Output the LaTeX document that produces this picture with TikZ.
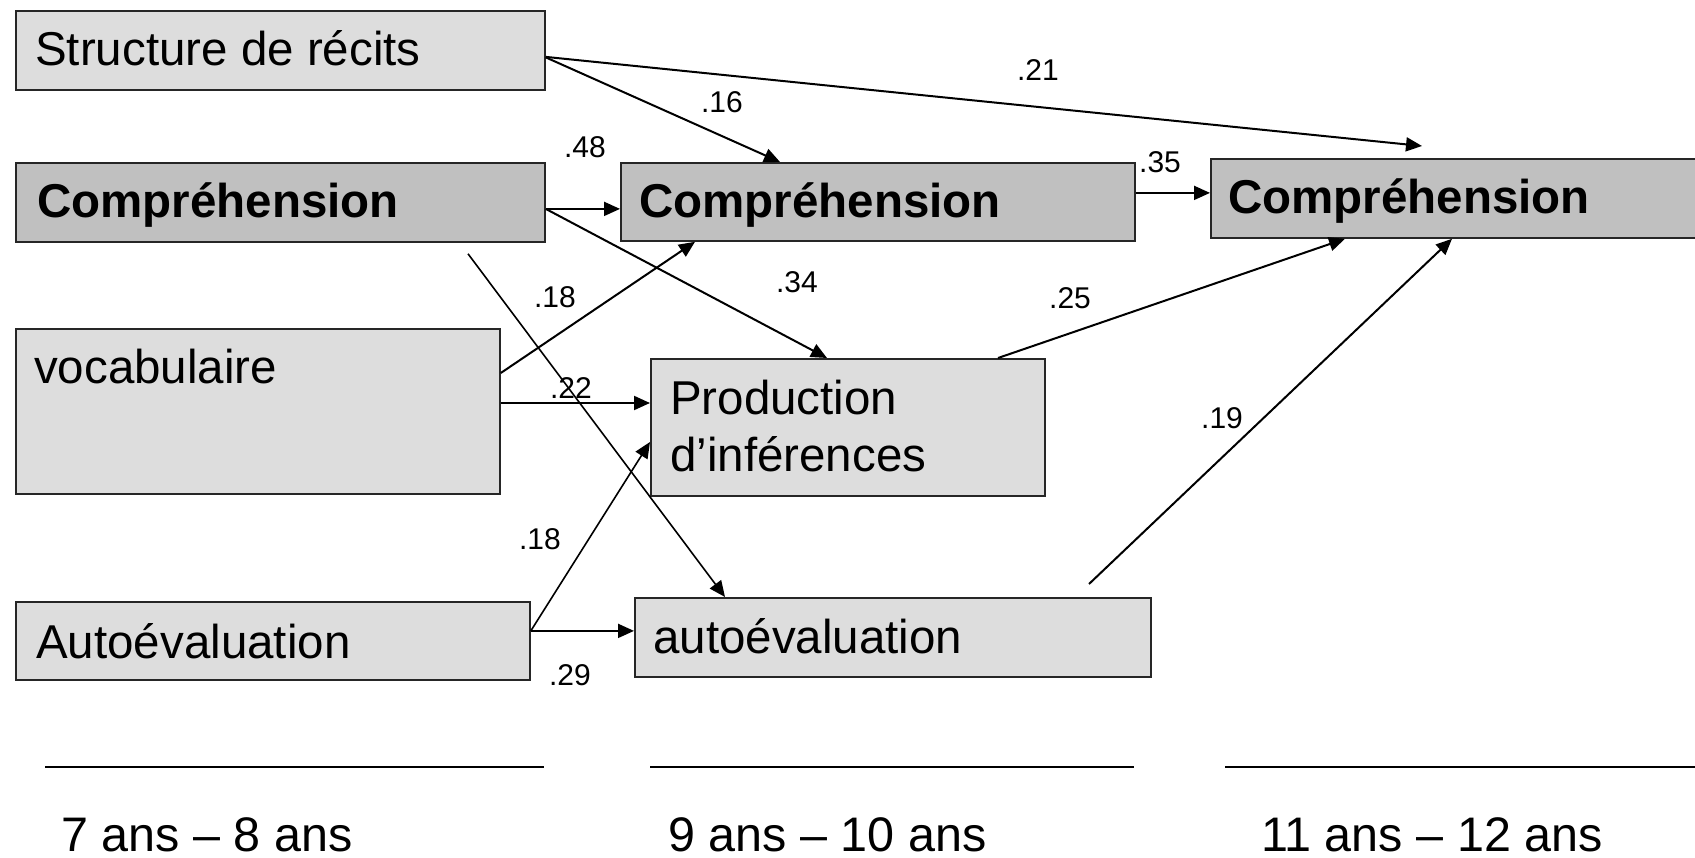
\documentclass[tikz,border=0pt]{standalone}
\usepackage{fontspec}
\setmainfont{Liberation Sans}
\usetikzlibrary{arrows.meta,calc}
\definecolor{lightbox}{HTML}{DDDDDD}
\definecolor{darkbox}{HTML}{C0C0C0}
\begin{document}
\begin{tikzpicture}[x=1pt,y=-1pt,
  box/.style={draw=black!85, line width=1.8pt, anchor=north west, inner sep=0pt},
  lbox/.style={box, fill=lightbox},
  dbox/.style={box, fill=darkbox},
  txt/.style={anchor=base west, inner sep=0pt, font=\fontsize{47.5}{57}\selectfont},
  btxt/.style={txt, font=\fontsize{47.5}{57}\selectfont\bfseries},
  agetxt/.style={txt, font=\fontsize{48.5}{58}\selectfont},
  coef/.style={inner sep=0pt, font=\fontsize{30}{36}\selectfont},
  arr/.style={line width=2pt, -{Triangle[length=16pt,width=14pt]}},
  tarr/.style={arr, line width=1.6pt},
  rulel/.style={line width=2.5pt}
]
\useasboundingbox (0,0) rectangle (1695,858);

% boxes
\node[lbox, minimum width=529pt, minimum height=79pt] (st) at (15,10) {};
\node[dbox, minimum width=529pt, minimum height=79pt] (c1) at (15,162) {};
\node[lbox, minimum width=484pt, minimum height=165pt] (vo) at (15,328) {};
\node[lbox, minimum width=514pt, minimum height=78pt] (a1) at (15,601) {};
\node[dbox, minimum width=514pt, minimum height=78pt] (c2) at (620,162) {};
\node[lbox, minimum width=394pt, minimum height=137pt] (pr) at (650,358) {};
\node[lbox, minimum width=516pt, minimum height=79pt] (a2) at (634,597) {};
\node[dbox, minimum width=500pt, minimum height=79pt] (c3) at (1210,158) {};

% texts
\node[txt] (stT) at (35,66) {Structure de récits};
\node[btxt] (c1T) at (37,218) {Compréhension};
\node[txt] (voT) at (34,384) {vocabulaire};
\node[txt] (a1T) at (36,658) {Autoévaluation};
\node[btxt] (c2T) at (639,218) {Compréhension};
\node[txt, anchor=north west, align=left] (prT) at (670,380) {Production\\d’inférences};
\node[txt] (a2T) at (653,653) {autoévaluation};
\node[btxt] (c3T) at (1228,214) {Compréhension};

% free ends
\coordinate (t21) at (1422,146);
\coordinate (s18) at ($(c1.south west)+(453,11)$);
\coordinate (s19) at ($(a2.north west)+(455,-13)$);

% connectors
\draw[arr] ($(st.east)+(0,6.5)$) -- (t21);
\draw[arr] ($(st.east)+(0,7)$) -- ($(c2.north west)+(160,0)$);
\draw[arr] ($(c1.east)+(0,6.5)$) -- ($(c2.west)+(0,7)$);
\draw[arr] ($(c1.east)+(0,6.5)$) -- ($(pr.north west)+(177,0)$);
\draw[tarr] (s18) -- ($(a2.north west)+(91,0)$);
\draw[arr] ($(vo.north east)+(0,45)$) -- ($(c2.south west)+(75,0)$);
\draw[arr] ($(vo.north east)+(0,75)$) -- ($(pr.north west)+(0,45)$);
\draw[tarr] ($(a1.east)+(0,-10)$) -- ($(pr.north west)+(0,84)$);
\draw[arr] ($(a1.east)+(0,-10)$) -- ($(a2.west)+(0,-6.5)$);
\draw[arr] ($(c2.east)+(0,-9)$) -- ($(c3.west)+(0,-5.5)$);
\draw[arr] ($(pr.north west)+(348,0)$) -- ($(c3.south west)+(135,0)$);
\draw[arr] (s19) -- ($(c3.south west)+(242,0)$);

% coefficients
\node[coef] (l21) at (1038,70) {.21};
\node[coef] (l16) at (722,102) {.16};
\node[coef] (l48) at (585,147) {.48};
\node[coef] (l34) at (797,282) {.34};
\node[coef] (l18a) at (555,297) {.18};
\node[coef] (l22) at (571,388) {.22};
\node[coef] (l18b) at (540,539) {.18};
\node[coef] (l29) at (570,675) {.29};
\node[coef] (l35) at (1160,162) {.35};
\node[coef] (l25) at (1070,298) {.25};
\node[coef] (l19) at (1222,418) {.19};

% age rules and labels
\draw[rulel] (45,767) -- (544,767);
\draw[rulel] (650,767) -- (1134,767);
\draw[rulel] (1225,767) -- (1695,767);
\node[agetxt] (ag1) at (61,851) {7 ans – 8 ans};
\node[agetxt] (ag2) at (668,851) {9 ans – 10 ans};
\node[agetxt] (ag3) at (1261,851) {11 ans – 12 ans};
\end{tikzpicture}
\end{document}
